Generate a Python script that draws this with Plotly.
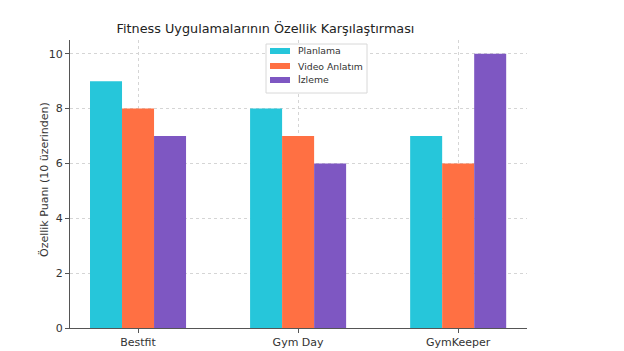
import plotly.graph_objects as go

categories = ["Bestfit", "Gym Day", "GymKeeper"]
planlama = [9, 8, 7]
video = [8, 7, 6]
izleme = [7, 6, 10]
series_names = ["Planlama", "Video Anlatım", "İzleme"]
colors = ["#26C6DA", "#FF7043", "#7E57C2"]

# plot area in pixels
L, R, T, B = 70, 527, 40, 328
def px(x):
    return (x - L) / (R - L)
def py(y):
    return (B - y) / (B - T)

fig = go.Figure()
for name, vals, c in zip(series_names, [planlama, video, izleme], colors):
    fig.add_trace(go.Bar(x=categories, y=vals, name=name, marker_color=c,
                         marker_line_width=0, showlegend=False))

# compact legend box drawn as shapes/annotations
shapes = [dict(type="rect", xref="paper", yref="paper",
               x0=px(266), x1=px(367), y0=py(93), y1=py(44),
               line=dict(color="#d8d8d8", width=1), fillcolor="white", layer="above")]
annotations = []
row_y = [51, 66, 80]
for name, c, yy in zip(series_names, colors, row_y):
    shapes.append(dict(type="rect", xref="paper", yref="paper",
                       x0=px(270), x1=px(290), y0=py(yy + 3), y1=py(yy - 3),
                       line=dict(width=0), fillcolor=c, layer="above"))
    annotations.append(dict(xref="paper", yref="paper", x=px(296), y=py(yy),
                            xanchor="left", yanchor="middle", text=name, showarrow=False,
                            font=dict(size=9.3, color="#333")))

# y-axis title
annotations.append(dict(xref="paper", yref="paper", x=px(44), y=py(180), text="Özellik Puanı (10 üzerinden)",
                        textangle=-90, showarrow=False, xanchor="center", yanchor="middle",
                        font=dict(size=11, color="#333")))

fig.update_layout(
    width=624, height=351,
    margin=dict(l=L, r=624 - R, t=T, b=351 - B, autoexpand=False),
    paper_bgcolor="white", plot_bgcolor="white",
    font=dict(family="DejaVu Sans", size=11, color="#333"),
    title=dict(text="Fitness Uygulamalarının Özellik Karşılaştırması",
               x=(118 + 413) / 2 / 624, xanchor="center", y=1 - 29 / 351, yanchor="middle",
               font=dict(size=12.8, color="#222")),
    barmode="group", bargap=0.4, bargroupgap=0,
    shapes=shapes, annotations=annotations,
    showlegend=False,
)
fig.update_xaxes(range=[-0.425, 2.43], showline=True, linecolor="#555", linewidth=1,
                 ticks="outside", ticklen=4, tickcolor="#555", automargin=False,
                 showgrid=True, gridcolor="#d5d5d5", griddash="dot", gridwidth=1)
fig.update_yaxes(range=[0, 10.5], dtick=2, showline=True, linecolor="#555", linewidth=1,
                 ticks="outside", ticklen=4, tickcolor="#555", automargin=False,
                 showgrid=True, gridcolor="#d5d5d5", griddash="dot", gridwidth=1,
                 zeroline=False)

fig.write_html("out.html")
